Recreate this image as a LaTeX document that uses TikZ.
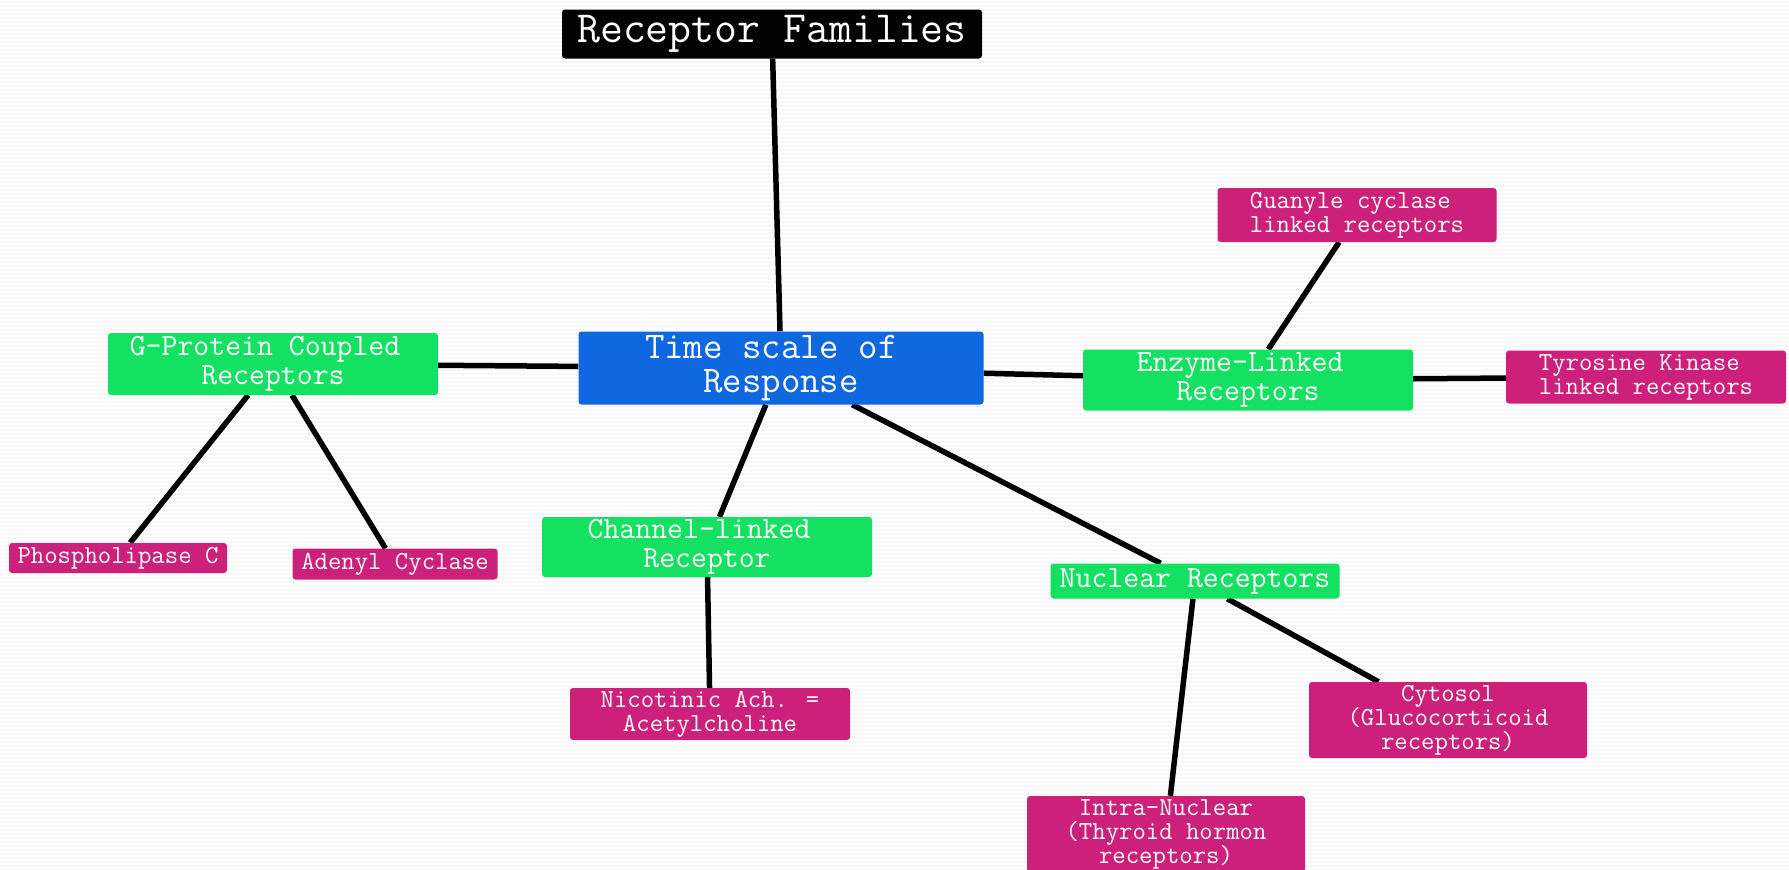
\documentclass[tikz,border=0pt]{standalone}
\usepackage{fontspec}
\usetikzlibrary{backgrounds}

\definecolor{titleblack}{RGB}{3,3,3}
\definecolor{hubblue}{RGB}{16,104,224}
\definecolor{groupgreen}{RGB}{20,224,98}
\definecolor{leafpink}{RGB}{204,32,122}

\tikzset{
  box/.style={rectangle, rounded corners=3pt, text=white, align=center,
              inner xsep=6pt, inner ysep=2pt},
  titlebox/.style={box, fill=titleblack, font=\ttfamily\fontsize{44.5}{44}\selectfont},
  hubbox/.style={box, fill=hubblue, font=\ttfamily\fontsize{37.7}{34}\selectfont},
  groupbox/.style={box, fill=groupgreen, font=\ttfamily\fontsize{30.9}{29}\selectfont},
  leafbox/.style={box, fill=leafpink, font=\ttfamily\fontsize{26}{24}\selectfont},
  link/.style={line width=5.5pt, black},
  stripe/.style={line width=1.2pt, black!3}
}
\newcommand{\trailsp}{\hphantom{x}} % keeps a trailing blank in mono text

\begin{document}
\begin{tikzpicture}[x=1pt, y=-1pt]
    \clip (0,0) rectangle (1789,870);
    % white ground with faint pinstripes behind everything
    \begin{scope}[on background layer]
        \fill[white] (0,0) rectangle (1789,870);
        \foreach \y in {2,6,...,870}
            \draw[stripe] (0,\y) -- (1789,\y);
    \end{scope}

    % top and hub
    \node[titlebox, minimum width=420, minimum height=49] (families) at (772,34) {Receptor Families};
    \node[hubbox, minimum width=405, minimum height=73] (timescale) at (781,368) {Time scale of\trailsp\\Response};

    % receptor families
    \node[groupbox, minimum width=330, minimum height=62] (gprotein) at (273,364) {G-Protein Coupled\trailsp\\Receptors};
    \node[groupbox, minimum width=330, minimum height=61] (enzyme) at (1248,380) {Enzyme-Linked\trailsp\\Receptors};
    \node[groupbox, minimum width=330, minimum height=60] (channel) at (707,547) {Channel-linked\trailsp\\Receptor};
    \node[groupbox, minimum width=289, minimum height=35] (nuclear) at (1195,581) {Nuclear Receptors};

    % examples
    \node[leafbox, minimum width=218, minimum height=30] (phospho) at (118,558) {Phospholipase C};
    \node[leafbox, minimum width=205, minimum height=31] (adenyl) at (395,564) {Adenyl Cyclase};
    \node[leafbox, minimum width=279, minimum height=54] (guanyle) at (1357,215) {Guanyle cyclase\trailsp\\linked receptors};
    \node[leafbox, minimum width=280, minimum height=53] (tyrosine) at (1646,377) {Tyrosine Kinase\trailsp\\linked receptors};
    \node[leafbox, minimum width=280, minimum height=52] (nicotinic) at (710,714) {Nicotinic Ach. =\\Acetylcholine};
    \node[leafbox, minimum width=278, minimum height=76] (cytosol) at (1448,720) {Cytosol\\(Glucocorticoid\\receptors)};
    \node[leafbox, minimum width=278, minimum height=76] (intra) at (1166,834) {Intra-Nuclear\\(Thyroid hormon\\receptors)};

    % connectors, centre to centre, under the boxes
    \begin{scope}[on background layer]
        \draw[link] (families) -- (timescale);
        \draw[link] (gprotein) -- (timescale);
        \draw[link] (timescale) -- (enzyme);
        \draw[link] (timescale) -- (channel);
        \draw[link] (timescale) -- (nuclear);
        \draw[link] (gprotein) -- (phospho);
        \draw[link] (gprotein) -- (adenyl);
        \draw[link] (enzyme) -- (guanyle);
        \draw[link] (enzyme) -- (tyrosine);
        \draw[link] (channel) -- (nicotinic);
        \draw[link] (nuclear) -- (cytosol);
        \draw[link] (nuclear) -- (intra);
    \end{scope}
\end{tikzpicture}
\end{document}
